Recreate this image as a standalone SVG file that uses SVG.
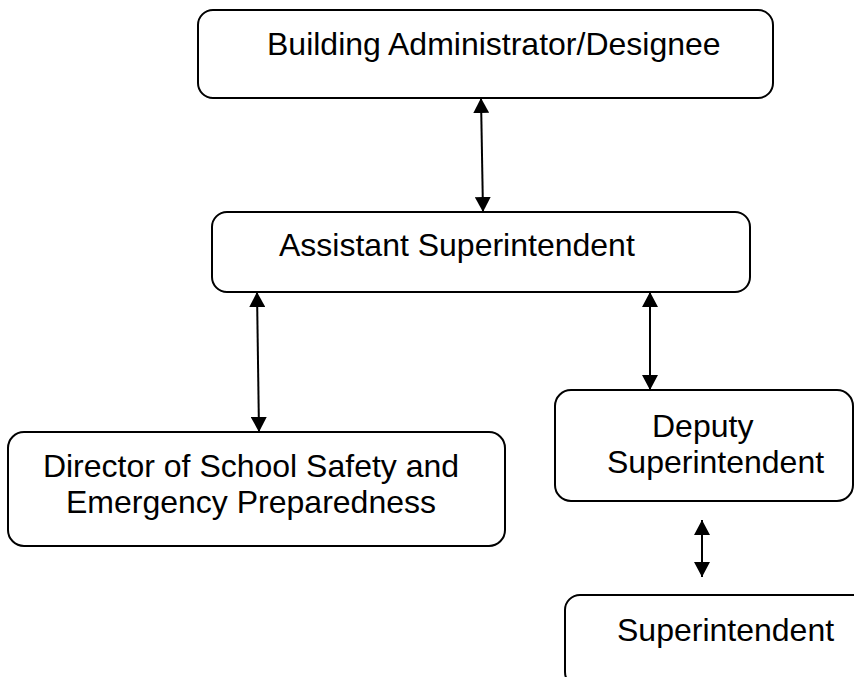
<svg xmlns="http://www.w3.org/2000/svg" width="854" height="677" viewBox="0 0 854 677">
<style>
.box{fill:#fff;stroke:#000;stroke-width:2}
.lbl{font-family:"Liberation Sans",Arial,sans-serif;font-size:32px;fill:#000}
.conn{stroke:#000;stroke-width:2;fill:none;marker-start:url(#ah);marker-end:url(#ah)}
</style>
<defs>
<marker id="ah" markerUnits="userSpaceOnUse" markerWidth="16" markerHeight="16" refX="15" refY="8" orient="auto-start-reverse">
<path d="M0,0 L15,8 L0,16 z" fill="#000"/>
</marker>
</defs>
<rect width="854" height="677" fill="#fff"/>
<g id="connectors">
<line class="conn" x1="481" y1="98" x2="483" y2="212"/>
<line class="conn" x1="257" y1="292" x2="259" y2="432"/>
<line class="conn" x1="650" y1="292" x2="650" y2="390"/>
<line class="conn" x1="702" y1="520" x2="702" y2="577"/>
</g>
<g id="building-admin">
<rect class="box" x="198" y="10" width="575" height="88" rx="15"/>
<text class="lbl" x="267" y="55">Building Administrator/Designee</text>
</g>
<g id="assistant-superintendent">
<rect class="box" x="212" y="212" width="538" height="80" rx="15"/>
<text class="lbl" x="279" y="256">Assistant Superintendent</text>
</g>
<g id="director">
<rect class="box" x="8" y="432" width="497" height="114" rx="16"/>
<text class="lbl" x="251" y="477" text-anchor="middle">Director of School Safety and</text>
<text class="lbl" x="251" y="513" text-anchor="middle">Emergency Preparedness</text>
</g>
<g id="deputy-superintendent">
<rect class="box" x="555" y="390" width="298" height="111" rx="16"/>
<text class="lbl" x="652" y="437">Deputy</text>
<text class="lbl" x="607" y="473">Superintendent</text>
</g>
<g id="superintendent">
<rect class="box" x="565" y="595" width="310" height="92" rx="15"/>
<text class="lbl" x="617" y="641">Superintendent</text>
</g>
</svg>
